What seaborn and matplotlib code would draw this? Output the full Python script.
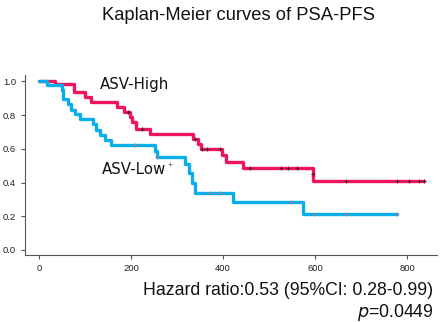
import numpy as np
import pandas as pd
import matplotlib
matplotlib.use("Agg")
import matplotlib.pyplot as plt
import seaborn as sns

# ---- data ----
high_time = [0, 35, 75, 100, 114, 170, 185, 198, 203, 210, 241, 335, 345, 352, 397, 406, 443, 596, 837]
high_surv = [1.0, 0.982, 0.94, 0.91, 0.88, 0.85, 0.82, 0.79, 0.76, 0.716, 0.69, 0.66, 0.63, 0.60, 0.566, 0.524, 0.484, 0.412, 0.412]
high_cens_t = [194, 223, 339, 354, 366, 393, 459, 525, 541, 561, 596, 667, 778, 804, 826, 837]
high_cens_s = [0.82, 0.716, 0.66, 0.60, 0.60, 0.60, 0.484, 0.484, 0.484, 0.484, 0.45, 0.412, 0.412, 0.412, 0.412, 0.412]

low_time = [0, 17, 49, 53, 64, 69, 78, 89, 118, 123, 133, 143, 157, 252, 256, 317, 326, 332, 338, 421, 573, 777]
low_surv = [1.0, 0.98, 0.95, 0.894, 0.866, 0.83, 0.804, 0.776, 0.747, 0.714, 0.681, 0.651, 0.622, 0.586, 0.552, 0.51, 0.456, 0.396, 0.336, 0.282, 0.212, 0.212]
low_cens_t = [209, 256, 285, 372, 393, 547, 598, 667, 777]
low_cens_s = [0.622, 0.552, 0.51, 0.336, 0.336, 0.282, 0.212, 0.212, 0.212]

x_ticks = [0, 200, 400, 600, 800]
y_ticks = [0.0, 0.2, 0.4, 0.6, 0.8, 1.0]

RED = "#F0145A"
BLUE = "#08AEEA"

sns.set_theme(style="ticks")
plt.rcParams["font.family"] = ["Liberation Sans", "DejaVu Sans"]

fig = plt.figure(figsize=(4.42, 3.22), dpi=100)
ax = fig.add_axes([0.057, 0.208, 0.932, 0.56])

df = pd.concat([
    pd.DataFrame({"time": high_time, "surv": high_surv, "group": "ASV-High"}),
    pd.DataFrame({"time": low_time, "surv": low_surv, "group": "ASV-Low"}),
])
sns.lineplot(data=df, x="time", y="surv", hue="group", hue_order=["ASV-High", "ASV-Low"],
             palette={"ASV-Low": BLUE, "ASV-High": RED},
             drawstyle="steps-post", linewidth=2.4, legend=False, ax=ax, estimator=None, sort=False)

ax.scatter(low_cens_t, low_cens_s, marker="+", s=12, color="#9a7a9a", linewidths=0.7, zorder=5)
ax.scatter(high_cens_t, high_cens_s, marker="+", s=12, color="#4a2030", linewidths=0.7, zorder=5)

ax.set_xlim(-30, 865)
ax.set_ylim(-0.03, 1.04)
ax.set_xticks(x_ticks)
ax.set_yticks(y_ticks)
ax.set_xticklabels([str(v) for v in x_ticks])
ax.set_yticklabels([f"{v:.1f}" for v in y_ticks])
ax.tick_params(axis="both", labelsize=6.8, colors="#555555", labelcolor="#222222", length=3, width=0.8)
ax.set_xlabel("")
ax.set_ylabel("")
for s in ["top", "right"]:
    ax.spines[s].set_visible(False)
for s in ["left", "bottom"]:
    ax.spines[s].set_color("#555555")
    ax.spines[s].set_linewidth(0.8)

ax.text(132, 0.98, "ASV-High", fontsize=10.8, family=["DejaVu Sans"], color="#111111", ha="left", va="center")
ax.text(137, 0.48, "ASV-Low", fontsize=10.8, family=["DejaVu Sans"], color="#111111", ha="left", va="center")

fig.text(0.54, 0.952, "Kaplan-Meier curves of PSA-PFS", fontsize=13.2, ha="center", va="center", color="#111111")
fig.text(0.98, 0.098, "Hazard ratio:0.53 (95%CI: 0.28-0.99)", fontsize=12.7, ha="right", va="center", color="#111111")
fig.text(0.98, 0.03, r"$p$=0.0449", fontsize=12.7, ha="right", va="center", color="#111111")

fig.savefig("out.png", dpi=100)
